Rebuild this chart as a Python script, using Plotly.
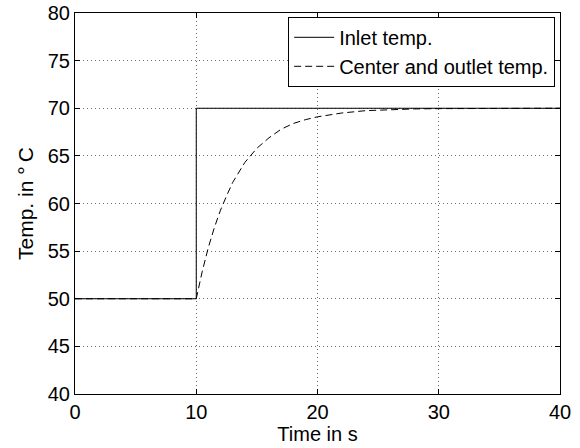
import plotly.graph_objects as go

# Inlet temperature (step)
inlet_t = [0, 10, 10, 40]
inlet_v = [50, 50, 70, 70]

# Center and outlet temperature
center_t = [0, 10, 10.5, 11, 11.5, 12, 12.5, 13, 14, 15, 16, 17, 18, 19, 20, 22, 24, 26, 28, 30, 35, 40]
center_v = [50, 50, 52.9, 55.4, 57.5, 59.3, 60.8, 62.2, 64.3, 65.8, 66.9, 67.8, 68.4, 68.8, 69.1, 69.5, 69.75, 69.87, 69.93, 69.96, 69.99, 70]

x_ticks = [0, 10, 20, 30, 40]
y_ticks = [40, 45, 50, 55, 60, 65, 70, 75, 80]

FONT = "Liberation Sans, Arial, Helvetica, sans-serif"

fig = go.Figure()
fig.add_trace(go.Scatter(x=inlet_t, y=inlet_v, mode="lines", name="Inlet temp.",
                         line=dict(color="black", width=1)))
fig.add_trace(go.Scatter(x=center_t, y=center_v, mode="lines", name="Center and outlet temp.",
                         line=dict(color="black", width=1, dash="7px,4px")))

axis_common = dict(
    showline=True, linecolor="black", linewidth=1, mirror="ticks",
    ticks="inside", ticklen=5, tickcolor="black", tickwidth=1,
    showgrid=True, gridcolor="#666666", gridwidth=1, griddash="1px,3px",
    zeroline=False, tickfont=dict(family=FONT, size=20, color="black"),
)

fig.update_layout(
    width=580, height=448,
    margin=dict(l=75, r=20, t=13, b=54),
    paper_bgcolor="white", plot_bgcolor="white",
    font=dict(family=FONT, size=20, color="black"),
    xaxis=dict(range=[0, 40], tickvals=x_ticks, ticktext=[str(v) for v in x_ticks],
               title=dict(text="Time in s", standoff=0, font=dict(family=FONT, size=20)),
               automargin=False, **axis_common),
    yaxis=dict(range=[40, 80], tickvals=y_ticks, ticktext=[str(v) for v in y_ticks],
               title=dict(text="Temp. in °\u2009C", standoff=8, font=dict(family=FONT, size=21)),
               automargin=False, **axis_common),
    legend=dict(x=0.99, y=0.99, xanchor="right", yanchor="top",
                bordercolor="black", borderwidth=1, bgcolor="white",
                font=dict(family=FONT, size=20), tracegroupgap=0,
                itemwidth=40),
    showlegend=True,
)

fig.write_html("out.html", config={"displayModeBar": False},
               post_script="document.body.style.margin='0';document.body.style.overflow='hidden';")
